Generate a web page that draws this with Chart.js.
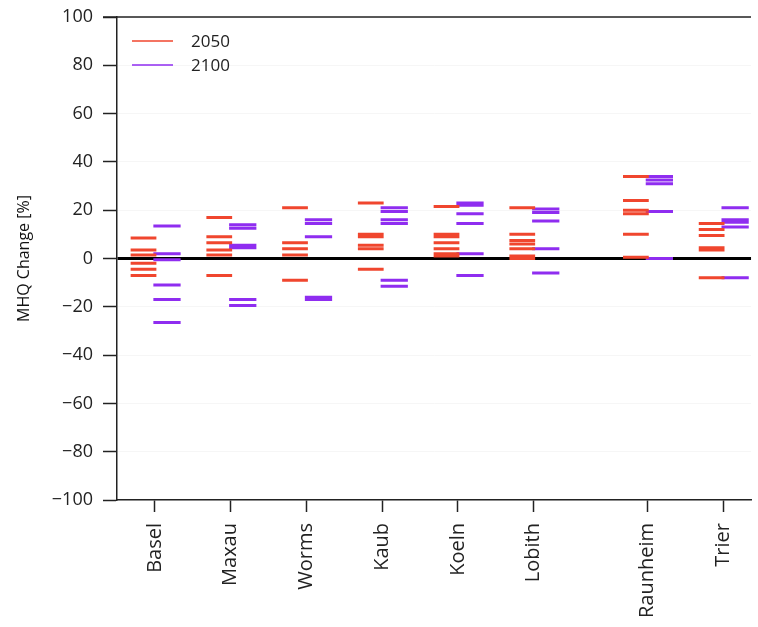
<!DOCTYPE html>
<html>
<head>
<meta charset="utf-8">
<script src="https://cdn.jsdelivr.net/npm/chart.js@4"></script>
<style>
  html, body { margin: 0; padding: 0; background: #fff; }
</style>
</head>
<body>
<canvas id="mhq" width="758" height="627"></canvas>
<script>
// MHQ change per gauge station, projected for 2050 (red) and 2100 (purple).
// Every ensemble member is drawn as a short horizontal tick; 2050 sits just
// left of the station tick, 2100 just right of it.
const stations   = ["Basel", "Maxau", "Worms", "Kaub", "Koeln", "Lobith", "Raunheim", "Trier"]
const stationPos = [1, 2, 3, 4, 5, 6, 7.5, 8.5]   // Raunheim/Trier set apart (tributaries)
const yTicks     = [-100, -80, -60, -40, -20, 0, 20, 40, 60, 80, 100]

const change2050 = [
  [8.5, 3.5, 1.5, -2, -4.5, -7],          // Basel
  [17, 9, 6.5, 3.5, 1.5, -7],             // Maxau
  [21, 6.5, 4, 1.5, -9],                  // Worms
  [23, 10, 9, 5.5, 4, -4.5],              // Kaub
  [21.5, 10, 9, 6.5, 4, 2, 1],            // Koeln
  [21, 10, 7.5, 6, 4, 1, 0],              // Lobith
  [34, 24, 20, 18.5, 10, 0.5],            // Raunheim
  [14.5, 12, 9.5, 4.5, 3.5, -8],          // Trier
]
const change2100 = [
  [13.5, 2, -0.5, -11, -17, -26.5],       // Basel
  [14, 12.5, 5.5, 4.5, -17, -19.5],       // Maxau
  [16, 14.5, 9, -16, -17],                // Worms
  [21, 19.5, 16, 14.5, -9, -11.5],        // Kaub
  [23, 22, 18.5, 14.5, 2, -7],            // Koeln
  [20.5, 19, 15.5, 4, -6],                // Lobith
  [34, 32.5, 31, 19.5, 0],                // Raunheim
  [21, 16, 15, 13, -8],                   // Trier
]

const RED    = "#f0462e"
const PURPLE = "#8f2df0"
const FONT   = "'Open Sans', 'DejaVu Sans', sans-serif"

// Turn per-station value lists into one line dataset made of short,
// disconnected horizontal segments (a null point breaks the line).
function segments(values, from, to) {
  const pts = []
  values.forEach((list, i) => {
    const x = stationPos[i]
    list.forEach((v) => {
      pts.push({ x: x + from, y: v }, { x: x + to, y: v }, { x: x + to, y: null })
    })
  })
  return pts
}

// Legend sits inside the plot, top-left, with plain line swatches.
const insideLegend = {
  id: "insideLegend",
  afterDraw(chart) {
    const { ctx, chartArea } = chart
    ctx.save()
    // top frame line
    ctx.strokeStyle = "#222"
    ctx.lineWidth = 1.5
    ctx.beginPath()
    ctx.moveTo(chartArea.left - 14, chartArea.top)
    ctx.lineTo(chartArea.right, chartArea.top)
    ctx.stroke()

    ctx.font = "17px " + FONT
    ctx.textBaseline = "middle"
    chart.data.datasets.forEach((ds, i) => {
      const y = chartArea.top + 24 + i * 24
      ctx.strokeStyle = ds.borderColor
      ctx.lineWidth = 1.5
      ctx.beginPath()
      ctx.moveTo(chartArea.left + 15, y)
      ctx.lineTo(chartArea.left + 56, y)
      ctx.stroke()
      ctx.fillStyle = "#222"
      ctx.fillText(ds.label, chartArea.left + 74, y + 1)
    })
    ctx.restore()
  }
}

new Chart(document.getElementById("mhq"), {
  type: "line",
  data: {
    datasets: [
      {
        label: "2050",
        data: segments(change2050, -0.32, 0.02),
        borderColor: RED,
        borderWidth: 3,
        borderCapStyle: "butt",
        pointRadius: 0,
        spanGaps: false,
      },
      {
        label: "2100",
        data: segments(change2100, -0.02, 0.34),
        borderColor: PURPLE,
        borderWidth: 3,
        borderCapStyle: "butt",
        pointRadius: 0,
        spanGaps: false,
      }
    ]
  },
  options: {
    responsive: false,
    animation: false,
    layout: { padding: { top: 17, right: 0, left: 0, bottom: 0 } },
    plugins: {
      legend: { display: false },
      tooltip: { enabled: false }
    },
    scales: {
      x: {
        type: "linear",
        min: 0.5,
        max: 8.87,
        afterBuildTicks: (axis) => { axis.ticks = stationPos.map((v) => ({ value: v })) },
        afterFit: (axis) => { axis.height = 127 },
        grid: { drawOnChartArea: false, tickLength: 12, tickColor: "#222", tickWidth: 1.5 },
        border: { display: true, color: "#222", width: 1.5 },
        ticks: {
          callback: (v, i) => stations[i],
          maxRotation: 90,
          minRotation: 90,
          padding: 11,
          color: "#222",
          font: { family: FONT, size: 20 }
        }
      },
      y: {
        min: -100,
        max: 100,
        afterBuildTicks: (axis) => { axis.ticks = yTicks.map((v) => ({ value: v })) },
        afterFit: (axis) => {
          axis.width = 117
          axis.paddingTop = 0
          axis.paddingBottom = 0
        },
        grid: {
          color: (c) => c.tick && c.tick.value === 0 ? "#000" : "rgba(0,0,0,0.035)",
          lineWidth: (c) => c.tick && c.tick.value === 0 ? 3 : 1,
          tickLength: 14,
          tickColor: "#222",
          tickWidth: 1.5
        },
        border: { display: true, color: "#222", width: 1.5 },
        ticks: {
          callback: (v) => v < 0 ? "\u2212" + Math.abs(v) : String(v),
          padding: 10,
          color: "#222",
          font: { family: FONT, size: 18 }
        },
        title: {
          display: true,
          text: "MHQ Change [%]",
          color: "#111",
          padding: { top: 15, bottom: 4 },
          font: { family: FONT, size: 16 }
        }
      }
    }
  },
  plugins: [insideLegend]
})
</script>
</body>
</html>
